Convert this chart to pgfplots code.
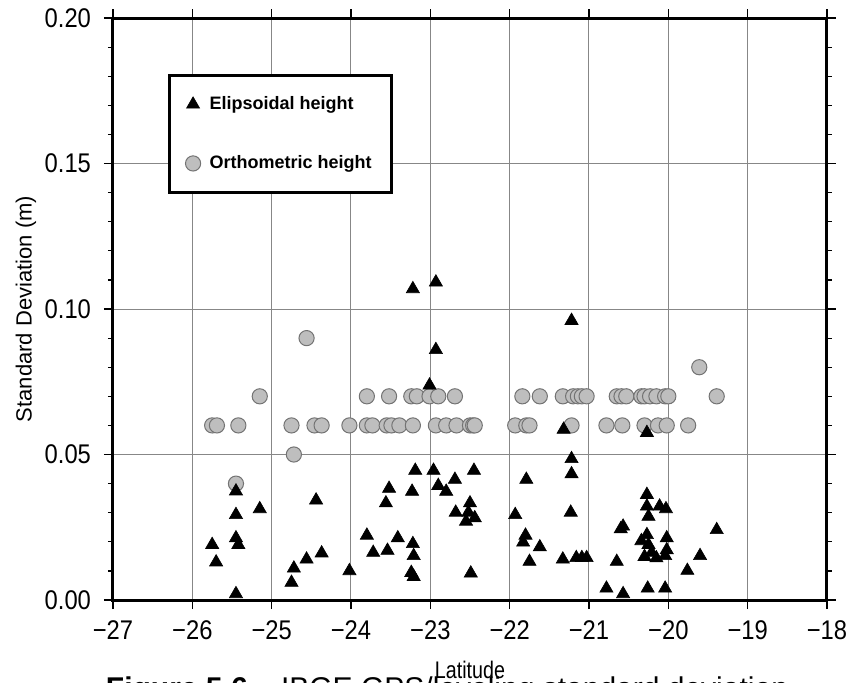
\documentclass[border=0pt]{standalone}
\usepackage{fontspec}
\setmainfont{Liberation Sans}
\newfontfamily\tickfont{Liberation Sans}[FakeStretch=0.88]
\newfontfamily\labfont{Liberation Sans}[FakeStretch=0.82]
\usepackage{pgfplots}
\pgfplotsset{compat=1.18}
\definecolor{circfill}{RGB}{190,190,190}
\definecolor{circedge}{RGB}{115,115,115}
\definecolor{gridgray}{RGB}{135,135,135}
\pgfplotsset{singlemark/.style={legend image code/.code={\draw[##1] plot coordinates {(0cm,0cm)};}}}

\begin{document}
\begin{tikzpicture}
\begin{axis}[
  at={(0,0)}, anchor=south west,
  scale only axis, width=357pt, height=291pt,
  xmin=-27, xmax=-18, ymin=0, ymax=0.2,
  xtick={-27,-26,-25,-24,-23,-22,-21,-20,-19,-18},
  xticklabels={−27,−26,−25,−24,−23,−22,−21,−20,−19,−18},
  ytick={0,0.05,0.1,0.15,0.2},
  yticklabels={0.00,0.05,0.10,0.15,0.20},
  minor ytick={0.01,0.02,0.03,0.04,0.06,0.07,0.08,0.09,0.11,0.12,0.13,0.14,0.16,0.17,0.18,0.19},
  tick align=outside,
  major tick length=4.5pt, minor tick length=2.5pt,
  every tick/.style={black, line width=0.6pt},
  xmajorgrids, ymajorgrids,
  major grid style={gridgray, line width=0.5pt},
  axis line style={line width=1.5pt},
  ticklabel style={font=\tickfont\fontsize{13.5}{16}\selectfont},
  xticklabel style={yshift=-2.5pt},
  yticklabel style={xshift=-3pt},
  xlabel={Latitude}, ylabel={Standard Deviation (m)},
  xlabel style={font=\labfont\fontsize{12}{14}\selectfont, at={(axis description cs:0.5,-0.134)}, anchor=base},
  ylabel style={font=\fontsize{11}{13}\selectfont, at={(axis description cs:-0.122,0.5)}, anchor=center},
  reverse legend,
  legend cell align=left,
  legend style={at={(axis description cs:0.077,0.904)}, anchor=north west,
    draw=black, line width=1.5pt, fill=white,
    inner xsep=8pt, inner ysep=8.5pt, row sep=17.5pt,
    /tikz/every odd column/.append style={column sep=2.5pt},
    font=\bfseries\fontsize{9}{11}\selectfont},
]
\addplot[only marks, mark=*, mark size=3.8pt,
  mark options={fill=circfill, draw=circedge, line width=0.5pt}, singlemark]
  table[row sep=\\] {
x y\\
-25.15 0.07\\ -23.80 0.07\\ -23.52 0.07\\ -23.24 0.07\\ -23.17 0.07\\
-23.01 0.07\\ -22.90 0.07\\ -22.69 0.07\\ -21.84 0.07\\ -21.62 0.07\\
-21.33 0.07\\ -21.20 0.07\\ -21.14 0.07\\ -21.09 0.07\\ -21.03 0.07\\
-20.65 0.07\\ -20.59 0.07\\ -20.53 0.07\\ -20.34 0.07\\ -20.30 0.07\\
-20.23 0.07\\ -20.15 0.07\\ -20.04 0.07\\ -20.00 0.07\\ -19.39 0.07\\
-25.75 0.06\\ -25.69 0.06\\ -25.42 0.06\\ -24.75 0.06\\ -24.46 0.06\\
-24.37 0.06\\ -24.02 0.06\\ -23.80 0.06\\ -23.73 0.06\\ -23.55 0.06\\
-23.49 0.06\\ -23.39 0.06\\ -23.22 0.06\\ -22.93 0.06\\ -22.80 0.06\\
-22.67 0.06\\ -22.50 0.06\\ -22.46 0.06\\ -22.44 0.06\\ -21.93 0.06\\
-21.79 0.06\\ -21.75 0.06\\ -21.22 0.06\\ -20.78 0.06\\ -20.58 0.06\\
-20.30 0.06\\ -20.13 0.06\\ -20.02 0.06\\ -19.75 0.06\\
-24.72 0.05\\ -25.45 0.04\\ -24.56 0.09\\ -19.61 0.08\\
};
\addlegendentry{Orthometric height}
\addplot[only marks, mark=triangle*, mark size=3.8pt,
  mark options={fill=black, draw=black, line width=0.3pt}, singlemark]
  table[row sep=\\] {
x y\\
-25.45 0.0374\\ -25.15 0.0313\\ -24.44 0.0343\\ -25.45 0.0293\\ -25.45 0.0213\\
-25.42 0.0190\\ -25.75 0.0190\\ -25.70 0.0130\\ -25.45 0.0021\\ -24.75 0.0060\\
-24.72 0.0109\\ -24.56 0.0140\\ -24.37 0.0161\\ -24.02 0.0100\\ -23.80 0.0222\\
-23.01 0.0738\\ -23.22 0.1069\\ -22.93 0.1092\\ -22.93 0.0860\\ -21.22 0.0960\\
-21.32 0.0586\\ -21.22 0.0485\\ -21.22 0.0433\\ -21.23 0.0301\\
-23.19 0.0445\\ -22.96 0.0445\\ -22.45 0.0445\\ -22.69 0.0414\\ -22.90 0.0393\\
-22.80 0.0373\\ -23.52 0.0383\\ -23.23 0.0373\\ -23.56 0.0333\\ -22.50 0.0333\\
-22.68 0.0301\\ -22.52 0.0301\\ -22.44 0.0282\\ -22.55 0.0270\\ -21.79 0.0414\\
-21.93 0.0293\\ -23.41 0.0213\\ -21.80 0.0222\\ -21.83 0.0198\\ -23.72 0.0163\\
-23.54 0.0170\\ -23.22 0.0193\\ -23.21 0.0152\\ -23.24 0.0094\\ -23.21 0.0080\\
-22.49 0.0092\\ -21.62 0.0182\\ -21.75 0.0132\\ -21.33 0.0140\\ -21.16 0.0145\\
-21.09 0.0145\\ -21.03 0.0145\\
-20.27 0.0575\\ -20.27 0.0362\\ -20.27 0.0322\\ -20.11 0.0322\\ -20.03 0.0313\\
-20.25 0.0287\\ -20.57 0.0253\\ -20.60 0.0244\\ -19.39 0.0241\\ -20.27 0.0224\\
-20.34 0.0203\\ -20.02 0.0213\\ -20.25 0.0190\\ -20.02 0.0172\\ -20.30 0.0149\\
-20.15 0.0144\\ -20.04 0.0152\\ -20.21 0.0163\\ -20.65 0.0132\\ -19.60 0.0152\\
-19.76 0.0101\\ -20.78 0.0040\\ -20.57 0.0021\\ -20.26 0.0040\\ -20.04 0.0040\\
};
\addlegendentry{Elipsoidal height}
\end{axis}
\node[anchor=base, font=\fontsize{15}{18}\selectfont] at (167pt,-49pt)
  {\textbf{Figure 5.6} -- IBGE GPS/leveling standard deviation};
\pgfresetboundingbox
\path[use as bounding box] (-56.5pt,-41pt) rectangle (370.5pt,300pt);
\end{tikzpicture}
\end{document}
